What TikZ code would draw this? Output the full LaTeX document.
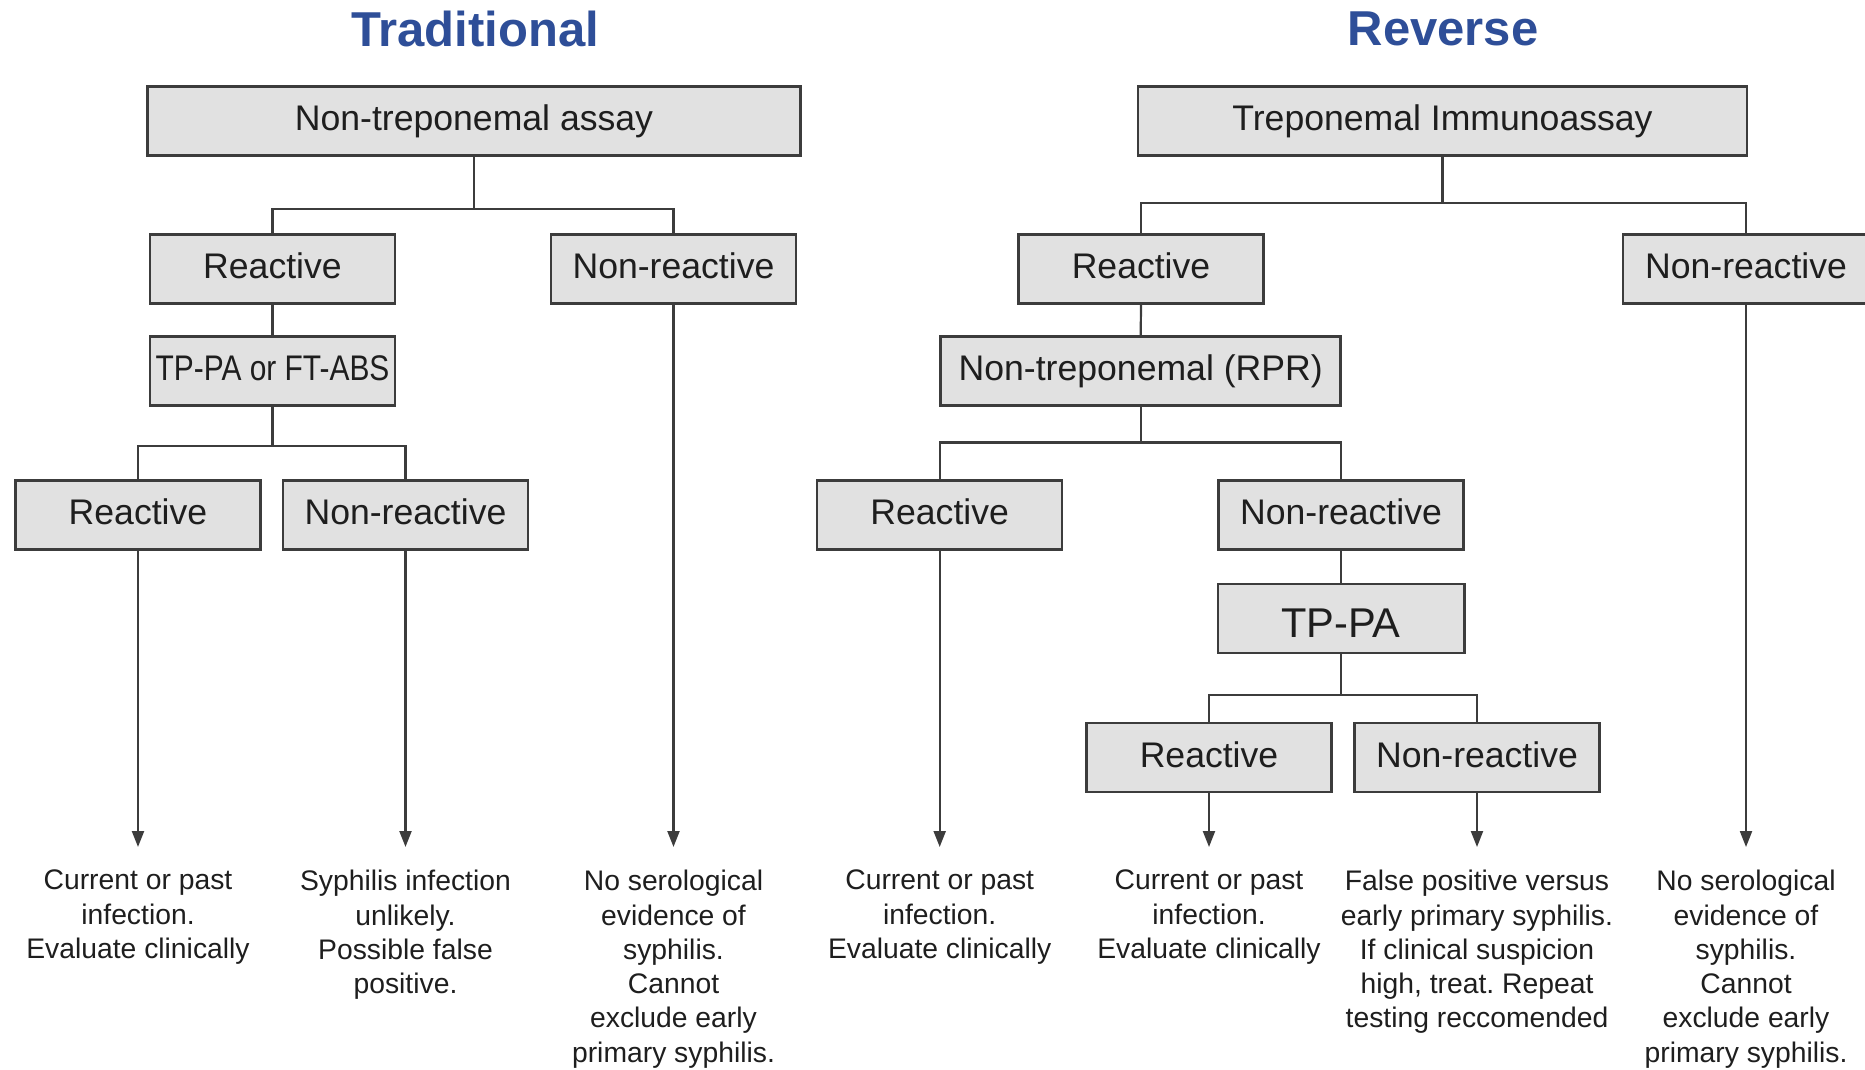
\documentclass[tikz,border=0pt]{standalone}
\usepackage{graphicx}
\usepackage{fontspec}
\setmainfont{Liberation Sans}
\usetikzlibrary{arrows.meta}
\definecolor{titleblue}{RGB}{46,78,152}
\definecolor{boxfill}{RGB}{225,225,225}
\definecolor{boxline}{RGB}{60,60,60}
\definecolor{txt}{RGB}{30,30,30}
\frenchspacing
\begin{document}
\begin{tikzpicture}[x=1pt,y=-1pt,
  box/.style={draw=boxline, fill=boxfill, line width=2.5pt, minimum height=69pt, minimum width=245pt, inner sep=0pt, text=txt, font=\fontsize{35.6}{42}\selectfont, text height=26pt, text depth=7pt},
  conn/.style={draw=boxline, line width=2.2pt},
  arr/.style={conn, -{Triangle[length=16pt,width=12pt]}, shorten >=23pt},
  outc/.style={anchor=north, align=center, inner sep=0pt, text=txt, font=\fontsize{28.3}{34.3}\selectfont\frenchspacing},
  ttl/.style={font=\bfseries\fontsize{49}{58}\selectfont, text=titleblue, inner sep=0pt}
]
\useasboundingbox (0,0) rectangle (1865,1070);

% titles
\node[ttl] (tT) at (475,29) {Traditional};
\node[ttl] (tR) at (1443,29) {Reverse};

% ---------- Traditional ----------
\node[box, minimum width=653pt] (tA) at (474,121) {Non-treponemal assay};
\node[box] (lR1) at (272.5,269) {Reactive};
\node[box] (lN1) at (673.5,269) {Non-reactive};
\node[box] (lT) at (272.5,371) {\scalebox{0.84}[1]{TP-PA or FT-ABS}};
\node[box] (lR2) at (138,515) {Reactive};
\node[box] (lN2) at (405.5,515) {Non-reactive};

\coordinate (j1) at (474,209);
\coordinate (j2) at (272.5,446);
\draw[conn] (tA.south) -- (tA.south |- j1);
\draw[conn] (lR1.north) |- (j1) -| (lN1.north);
\draw[conn] (lR1.south) -- (lT.north);
\draw[conn] (lT.south) -- (j2);
\draw[conn] (lR2.north) |- (j2) -| (lN2.north);

\node[outc] (oL1) at (138,870) {Current or past\\infection.\\Evaluate clinically};
\node[outc] (oL2) at (405.5,870) {Syphilis infection\\unlikely.\\Possible false\\positive.};
\node[outc] (oL3) at (673.5,870) {No serological\\evidence of\\syphilis.\\Cannot\\exclude early\\primary syphilis.};

\draw[arr] (lR2.south) -- (oL1.north);
\draw[arr] (lN2.south) -- (oL2.north);
\draw[arr] (lN1.south) -- (oL3.north);

% ---------- Reverse ----------
\node[box, minimum width=609pt] (rA) at (1442.5,121) {Treponemal Immunoassay};
\node[box] (rR1) at (1141,269) {Reactive};
\node[box, minimum width=246pt] (rN1) at (1746,269) {Non-reactive};
\node[box, minimum width=400pt] (rP) at (1140.7,371) {Non-treponemal (RPR)};
\node[box] (rR2) at (939.7,515) {Reactive};
\node[box] (rN2) at (1341,515) {Non-reactive};
\node[box, minimum width=246.5pt, font=\fontsize{41.6}{48}\selectfont, text height=38pt, text depth=0pt] (rT) at (1341,618.5) {TP-PA};
\node[box] (rR3) at (1209,757.6) {Reactive};
\node[box] (rN3) at (1477,757.6) {Non-reactive};

\coordinate (k1) at (1442.5,203);
\coordinate (k2) at (1140.7,442.5);
\coordinate (k3) at (1341,694.6);
\draw[conn] (rA.south) -- (rA.south |- k1);
\draw[conn] (rR1.north) |- (k1) -| (rN1.north);
\draw[conn] (rR1.south) -- (rP.north);
\draw[conn] (rP.south) -- (k2);
\draw[conn] (rR2.north) |- (k2) -| (rN2.north);
\draw[conn] (rN2.south) -- (rT.north);
\draw[conn] (rT.south) -- (k3);
\draw[conn] (rR3.north) |- (k3) -| (rN3.north);

\node[outc] (oR1) at (939.7,870) {Current or past\\infection.\\Evaluate clinically};
\node[outc] (oR2) at (1209,870) {Current or past\\infection.\\Evaluate clinically};
\node[outc] (oR3) at (1477,870) {False positive versus\\early primary syphilis.\\If clinical suspicion\\high, treat. Repeat\\testing reccomended};
\node[outc] (oR4) at (1746,870) {No serological\\evidence of\\syphilis.\\Cannot\\exclude early\\primary syphilis.};

\draw[arr] (rR2.south) -- (oR1.north);
\draw[arr] (rR3.south) -- (oR2.north);
\draw[arr] (rN3.south) -- (oR3.north);
\draw[arr] (rN1.south) -- (oR4.north);
\end{tikzpicture}
\end{document}
